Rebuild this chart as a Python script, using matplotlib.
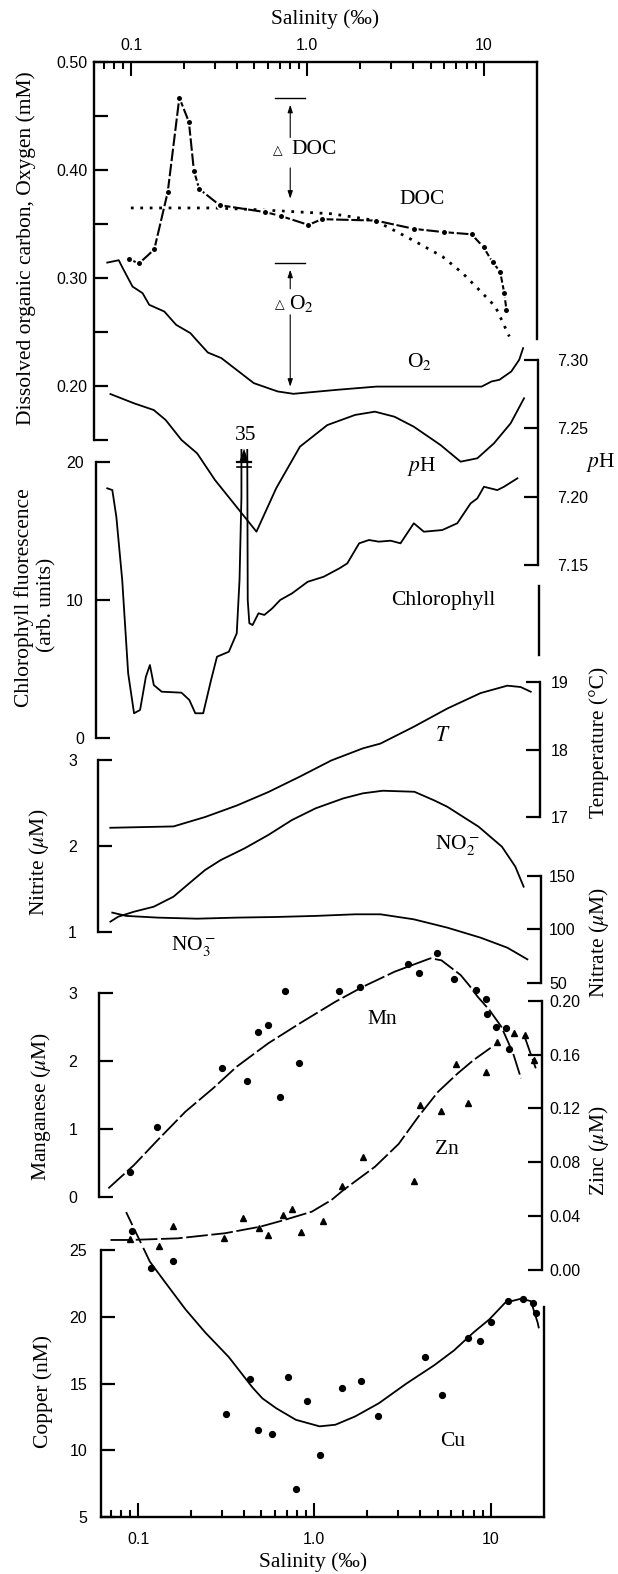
import numpy as np
import matplotlib
matplotlib.use('Agg')
import matplotlib.pyplot as plt
from matplotlib.ticker import NullLocator, NullFormatter

plt.rcParams['font.family'] = ['Liberation Serif', 'DejaVu Serif']
plt.rcParams['mathtext.fontset'] = 'stix'

# ---------------- data (salinity in per mille) ----------------
doc_s = [0.0975, 0.111, 0.1355, 0.1615, 0.188, 0.213, 0.2273, 0.2436, 0.318, 0.579, 0.706,
         1.015, 1.209, 2.446, 4.045, 5.96, 8.55, 10.0, 11.26, 12.41, 13.08, 13.48]
doc_v = [0.317, 0.313, 0.326, 0.379, 0.4665, 0.444, 0.399, 0.382, 0.367, 0.3605, 0.357,
         0.3487, 0.354, 0.3527, 0.345, 0.342, 0.340, 0.328, 0.314, 0.3055, 0.286, 0.270]

mix_s = [0.0998, 0.2965, 0.55, 1.378, 2.33, 2.84, 4.10, 5.84, 7.60, 9.25, 11.67, 13.99]
mix_v = [0.3644, 0.3644, 0.3626, 0.359, 0.3533, 0.347, 0.3333, 0.3194, 0.304, 0.290, 0.273, 0.2454]

o2_s = [0.0733, 0.0852, 0.0898, 0.102, 0.1163, 0.1269, 0.1545, 0.1802, 0.2171, 0.2395, 0.273,
        0.3253, 0.497, 0.6785, 0.834, 1.472, 2.472, 5.37, 9.75, 11.08, 12.3, 14.36, 15.92, 16.76]
o2_v = [0.3138, 0.316, 0.3086, 0.2916, 0.2855, 0.2747, 0.2685, 0.2562, 0.2485, 0.2407, 0.2305,
        0.2254, 0.2022, 0.1945, 0.1923, 0.196, 0.199, 0.199, 0.199, 0.2037, 0.2053, 0.213, 0.2238, 0.2346]

ph_s = [0.0751, 0.1023, 0.1323, 0.1546, 0.190, 0.2332, 0.2943, 0.506, 0.6555, 0.893, 1.277,
        1.835, 2.377, 3.07, 3.95, 5.60, 7.28, 9.06, 11.25, 14.0, 16.67]
ph_v = [7.2751, 7.2683, 7.2634, 7.2561, 7.2415, 7.2317, 7.2122, 7.1744, 7.2063, 7.2366, 7.2524,
        7.2598, 7.2622, 7.2585, 7.2512, 7.2378, 7.2256, 7.2281, 7.2390, 7.2537, 7.2720]

chl_s = [0.0713, 0.0762, 0.0803, 0.0867, 0.0937, 0.1012, 0.1095, 0.1181, 0.1245, 0.1310, 0.1452,
         0.188, 0.2084, 0.2252, 0.2497, 0.2768, 0.2990, 0.349, 0.387, 0.4013, 0.4114, 0.4114,
         0.4403, 0.4467, 0.4562, 0.4758, 0.514, 0.555, 0.6157, 0.6825, 0.7966, 0.978, 1.203,
         1.479, 1.640, 1.914, 2.176, 2.476, 2.890, 3.286, 3.909, 4.457, 5.669, 6.898, 8.21,
         8.96, 9.77, 11.64, 12.69, 15.12]
chl_v = [18.08, 17.95, 16.02, 11.45, 4.70, 1.81, 2.05, 4.45, 5.30, 3.85, 3.37,
         3.30, 2.77, 1.81, 1.81, 4.22, 5.90, 6.26, 7.59, 11.45, 17.47, 35,
         35, 10.0, 8.32, 8.19, 9.04, 8.92, 9.40, 10.0, 10.48, 11.32, 11.68,
         12.29, 12.65, 14.10, 14.34, 14.22, 14.29, 14.10, 15.55, 14.94, 15.06, 15.55, 16.99,
         17.35, 18.19, 17.95, 18.19, 18.80]
chl_peak = 35

t_s = [0.0733, 0.1673, 0.2529, 0.382, 0.5767, 0.8719, 1.315, 1.988, 2.496, 3.859, 5.973,
       9.235, 13.09, 15.58, 17.77]
t_v = [16.84, 16.86, 17.0, 17.17, 17.37, 17.60, 17.84, 18.02, 18.09, 18.34, 18.61,
       18.84, 18.95, 18.93, 18.86]

no2_s = [0.0728, 0.0807, 0.0991, 0.1282, 0.166, 0.204, 0.2509, 0.308, 0.420, 0.572, 0.780,
         1.062, 1.526, 1.972, 2.553, 3.859, 4.994, 5.927, 8.93, 12.11, 14.43, 16.08]
no2_v = [1.117, 1.175, 1.233, 1.291, 1.408, 1.564, 1.719, 1.835, 1.971, 2.126, 2.301,
         2.437, 2.553, 2.612, 2.642, 2.630, 2.53, 2.456, 2.223, 1.990, 1.757, 1.524]

no3_s = [0.0741, 0.0888, 0.1342, 0.2245, 0.3764, 0.631, 1.055, 1.767, 2.46, 3.804, 5.89,
         9.10, 12.91, 16.77]
no3_v = [115.7, 112.6, 111.0, 110.0, 111.0, 111.6, 112.6, 114.1, 114.1, 109.4, 101.6,
         92.2, 82.8, 71.9]

mn_s = [0.0923, 0.1311, 0.3069, 0.4228, 0.4936, 0.561, 0.6555, 0.697, 0.8395, 1.42, 1.867,
        3.467, 3.993, 5.10, 6.337, 8.41, 9.63, 9.72, 10.93, 12.46, 13.08]
mn_v = [0.376, 1.038, 1.897, 1.71, 2.435, 2.534, 1.479, 3.034, 1.979, 3.034, 3.097,
        3.426, 3.299, 3.588, 3.21, 3.049, 2.916, 2.691, 2.509, 2.497, 2.174]
mn_fit_s = [0.0695, 0.0972, 0.1325, 0.190, 0.2729, 0.3715, 0.561, 0.848, 1.348, 1.934, 2.924,
            3.686, 4.670, 5.385, 6.917, 7.71, 8.64, 10.08, 11.77, 13.73, 15.22]
mn_fit_v = [0.132, 0.475, 0.843, 1.259, 1.603, 1.921, 2.265, 2.559, 2.876, 3.097, 3.318,
            3.416, 3.515, 3.485, 3.269, 3.122, 2.95, 2.754, 2.509, 2.118, 1.75]

zn_s = [0.0921, 0.134, 0.1606, 0.3143, 0.4044, 0.4972, 0.5596, 0.6773, 0.763, 0.858, 1.14,
        1.46, 1.929, 3.74, 4.046, 5.31, 7.56, 6.48, 9.57, 11.15, 13.8, 16.0, 17.88]
zn_v = [0.0228, 0.018, 0.0327, 0.024, 0.0384, 0.031, 0.0262, 0.0408, 0.0453, 0.0285, 0.0366,
        0.0626, 0.0837, 0.0663, 0.1229, 0.1181, 0.1238, 0.1532, 0.1473, 0.1695, 0.176, 0.1742, 0.156]
zn_fit_s = [0.0712, 0.092, 0.171, 0.3176, 0.5047, 0.688, 0.987, 1.277, 1.493, 2.254, 3.069,
            3.972, 5.14, 6.65, 8.18, 10.21, np.nan, 15.79, 18.4]
zn_fit_v = [0.0223, 0.0223, 0.0235, 0.0273, 0.0322, 0.0371, 0.0433, 0.052, 0.0594, 0.0767, 0.0936,
            0.1139, 0.1324, 0.1461, 0.156, 0.165, np.nan, 0.1745, 0.1498]

cu_s = [0.0925, 0.1186, 0.1573, 0.3143, 0.430, 0.477, 0.5775, 0.709, 0.786, 0.909, 1.083,
        1.443, 1.842, 2.299, 4.246, 5.33, 7.49, 8.65, 10.09, 12.61, 15.26, 17.35, 18.09]
cu_v = [26.43, 23.64, 24.19, 12.73, 15.30, 11.54, 11.22, 15.50, 7.10, 13.69, 9.61,
        14.67, 15.20, 12.53, 16.98, 14.13, 18.41, 18.21, 19.64, 21.17, 21.30, 21.0, 20.31]
cu_fit_s = [0.0856, 0.1167, 0.1435, 0.1857, 0.2403, 0.3273, 0.446, 0.5073, 0.6075, 0.786, 1.072,
            1.316, 1.703, 2.323, 3.333, 4.78, 6.19, 8.01, 9.85, 12.09, 14.87, 16.92, 18.48, 18.74]
cu_fit_v = [27.84, 24.13, 22.53, 20.56, 18.83, 16.98, 14.70, 13.89, 13.15, 12.28, 11.79,
            11.91, 12.53, 13.52, 15.0, 16.36, 17.47, 18.83, 19.81, 21.05, 21.35, 21.17, 19.57, 19.2]

sal_major = [0.1, 1, 10]
sal_major_lab = ['0.1', '1.0', '10']
sal_minor = [0.07, 0.08, 0.09, 0.2, 0.3, 0.4, 0.5, 0.6, 0.7, 0.8, 0.9, 2, 3, 4, 5, 6, 7, 8, 9]

# ---------------- layout helpers ----------------
W, H = 618, 1574
SANS = 'Liberation Sans'
TFS = 11.5
LFS = 15.5
LW = 1.3
SPW = 1.7

fig = plt.figure(figsize=(W / 100, H / 100), dpi=100)


def panel(top_px, bot_px, lo, hi):
    yc = 0.5 * (top_px + bot_px)
    left = 93 + 9 * (yc - 61.5) / 1455.5
    ax = fig.add_axes([left / W, 1 - bot_px / H, 442.5 / W, (bot_px - top_px) / H])
    ax.set_xscale('log')
    ax.set_xlim(0.0618, 20.0)
    ax.set_ylim(lo, hi)
    ax.patch.set_visible(False)
    for sp in ax.spines.values():
        sp.set_visible(False)
        sp.set_linewidth(SPW)
    ax.xaxis.set_major_locator(NullLocator())
    ax.xaxis.set_minor_locator(NullLocator())
    ax.yaxis.set_major_locator(NullLocator())
    ax.yaxis.set_minor_locator(NullLocator())
    ax.tick_params(axis='x', which='both', top=False, bottom=False, labelbottom=False)
    return ax


def yaxis(ax, side, lo, hi, ticks, labels, pad):
    ax.spines[side].set_visible(True)
    ax.spines[side].set_bounds(lo, hi)
    ax.set_yticks(ticks, labels, fontfamily=SANS, fontsize=TFS)
    left = side == 'left'
    ax.tick_params(axis='y', which='major', left=left, right=not left,
                   labelleft=left, labelright=not left,
                   direction='in', length=10, width=1.6, pad=pad)


def xaxis(ax, side, pad):
    ax.spines[side].set_visible(True)
    ax.set_xticks(sal_major, sal_major_lab, fontfamily=SANS, fontsize=TFS)
    ax.set_xticks(sal_minor, minor=True)
    ax.xaxis.set_minor_formatter(NullFormatter())
    top = side == 'top'
    ax.tick_params(axis='x', which='both', top=top, bottom=not top,
                   labeltop=top, labelbottom=not top, direction='in', width=1.5)
    ax.tick_params(axis='x', which='major', length=10, pad=pad)
    ax.tick_params(axis='x', which='minor', length=5)


def ftext(x, y, s, **kw):
    kw.setdefault('fontsize', LFS)
    kw.setdefault('ha', 'center')
    kw.setdefault('va', 'center')
    fig.text(x / W, 1 - y / H, s, **kw)


def curve(ax, x, y, **kw):
    kw.setdefault('color', 'black')
    kw.setdefault('lw', LW)
    kw.setdefault('clip_on', False)
    ax.plot(x, y, **kw)


# ---------------- DOC / O2 ----------------
ax_doc = panel(61.5, 439.5, 0.15, 0.50)
yaxis(ax_doc, 'left', 0.15, 0.50, [0.15, 0.20, 0.25, 0.30, 0.35, 0.40, 0.45, 0.50],
      ['', '0.20', '', '0.30', '', '0.40', '', '0.50'], 5)
ax_doc.spines['right'].set_visible(True)
ax_doc.spines['right'].set_bounds(0.243, 0.50)
xaxis(ax_doc, 'top', 6)

curve(ax_doc, mix_s, mix_v, lw=2.0, ls=(0, (1.0, 2.4)))
curve(ax_doc, doc_s, doc_v, lw=1.5, ls=(0, (6, 1.3)), marker='o', ms=4.8,
      mfc='black', mec='white', mew=1.2)
curve(ax_doc, o2_s, o2_v)

# delta annotations
arr_x = 0.80
doc_top = max(doc_v)
head = dict(arrowstyle='-|>,head_length=0.45,head_width=0.15', lw=0.8, color='black')
ax_doc.plot([arr_x / 1.22, arr_x * 1.22], [doc_top, doc_top], color='black', lw=1.0)
ax_doc.annotate('', xy=(arr_x, doc_top - 0.004), xytext=(arr_x, 0.427), arrowprops=head)
ax_doc.annotate('', xy=(arr_x, mix_v[0] + 0.006), xytext=(arr_x, 0.404), arrowprops=head)
o2_top = o2_v[0]
ax_doc.plot([arr_x / 1.22, arr_x * 1.22], [o2_top, o2_top], color='black', lw=1.0)
ax_doc.annotate('', xy=(arr_x, o2_top - 0.004), xytext=(arr_x, 0.287), arrowprops=head)
ax_doc.annotate('', xy=(arr_x, min(o2_v) + 0.004), xytext=(arr_x, 0.268), arrowprops=head)

ftext(278, 151, '\u25b3', fontsize=9, family='DejaVu Sans')
ftext(314, 150, 'DOC')
ftext(280, 305, '\u25b3', fontsize=9, family='DejaVu Sans')
ftext(301, 303, 'O$_2$')
ftext(422, 200, 'DOC')
ftext(419, 361, 'O$_2$')

# ---------------- pH ----------------
ax_ph = panel(360, 565, 7.15, 7.30)
yaxis(ax_ph, 'right', 7.15, 7.30, [7.15, 7.20, 7.25, 7.30], ['7.15', '7.20', '7.25', '7.30'], 14)
curve(ax_ph, ph_s, ph_v)
ftext(422, 466, '$p$H')
ftext(601, 462, '$p$H')

# ---------------- chlorophyll ----------------
ax_chl = panel(448.6, 738.3, 0, 20.95)
yaxis(ax_chl, 'left', 0, 20, [0, 10, 20], ['0', '10', '20'], 9)
ax_chl.spines['right'].set_visible(True)
ax_chl.spines['right'].set_bounds(6.0, 11.0)
curve(ax_chl, chl_s, chl_v, clip_on=True)
# broken-scale mark on the off-scale peak
i_pk = chl_v.index(chl_peak)
px0, px1 = chl_s[i_pk], chl_s[i_pk + 1]
pxm = np.sqrt(px0 * px1)
ax_chl.fill([px0 / 1.03, pxm, px1 * 1.03], [19.95, 20.95, 19.95], color='black', lw=0, clip_on=False)
ax_chl.plot([px0 / 1.06, px1 * 1.06], [19.95, 19.95], color='black', lw=1.6, clip_on=False)
ax_chl.plot([px0 / 1.06, px1 * 1.06], [19.6, 19.6], color='black', lw=1.2, clip_on=False)
ftext(246, 436, str(chl_peak))
ftext(443, 600, 'Chlorophyll')

# ---------------- temperature ----------------
ax_t = panel(682.3, 817, 17, 19)
yaxis(ax_t, 'right', 17, 19, [17, 18, 19], ['17', '18', '19'], 8)
curve(ax_t, t_s, t_v)
ftext(443, 737, '$T$')

# ---------------- nitrite ----------------
ax_no2 = panel(760, 931.7, 1, 3)
yaxis(ax_no2, 'left', 1, 3, [1, 2, 3], ['1', '2', '3'], 15)
curve(ax_no2, no2_s, no2_v)
ftext(457, 845, 'NO$_2^-$')

# ---------------- nitrate ----------------
ax_no3 = panel(876, 982.7, 50, 150)
yaxis(ax_no3, 'right', 50, 150, [50, 100, 150], ['50', '100', '150'], 6)
curve(ax_no3, no3_s, no3_v)
ftext(193, 946, 'NO$_3^-$')

# ---------------- manganese ----------------
ax_mn = panel(993.3, 1197.3, 0, 3)
yaxis(ax_mn, 'left', 0, 3, [0, 1, 2, 3], ['0', '1', '2', '3'], 16)
curve(ax_mn, mn_fit_s, mn_fit_v, ls=(0, (12, 2)))
ax_mn.plot(mn_s, mn_v, 'o', color='black', ms=4.2, clip_on=False)
ftext(382, 1020, 'Mn')

# ---------------- zinc ----------------
ax_zn = panel(1000.7, 1270, 0, 0.20)
yaxis(ax_zn, 'right', 0, 0.20, [0, 0.04, 0.08, 0.12, 0.16, 0.20],
      ['0.00', '0.04', '0.08', '0.12', '0.16', '0.20'], 5)
curve(ax_zn, zn_fit_s, zn_fit_v, ls=(0, (12, 2)))
ax_zn.plot(zn_s, zn_v, '^', color='black', ms=4.6, clip_on=False)
ftext(447, 1150, 'Zn')

# ---------------- copper ----------------
ax_cu = panel(1250, 1517, 5, 25)
yaxis(ax_cu, 'left', 5, 25, [5, 10, 15, 20, 25], ['5', '10', '15', '20', '25'], 10)
ax_cu.spines['right'].set_visible(True)
ax_cu.spines['right'].set_bounds(5, 20.7)
xaxis(ax_cu, 'bottom', 11)
curve(ax_cu, cu_fit_s[:2], cu_fit_v[:2], ls=(0, (8, 3)))
curve(ax_cu, cu_fit_s[1:], cu_fit_v[1:])
ax_cu.plot(cu_s, cu_v, 'o', color='black', ms=4.2, clip_on=False)
ftext(453, 1442, 'Cu')

# ---------------- axis titles ----------------
ftext(325, 19, 'Salinity (\u2030)')
ftext(313, 1562, 'Salinity (\u2030)')
ftext(26, 248, 'Dissolved organic carbon, Oxygen (mM)', rotation=90)
ftext(24, 598, 'Chlorophyll fluorescence', rotation=90)
ftext(47, 605, '(arb. units)', rotation=90)
ftext(39, 862, 'Nitrite ($\\mu$M)', rotation=90)
ftext(41, 1106, 'Manganese ($\\mu$M)', rotation=90)
ftext(43, 1392, 'Copper (nM)', rotation=90)
ftext(599, 742, 'Temperature (\u00b0C)', rotation=90)
ftext(599, 943, 'Nitrate ($\\mu$M)', rotation=90)
ftext(599, 1151, 'Zinc ($\\mu$M)', rotation=90)

fig.savefig('out.png', dpi=100)
